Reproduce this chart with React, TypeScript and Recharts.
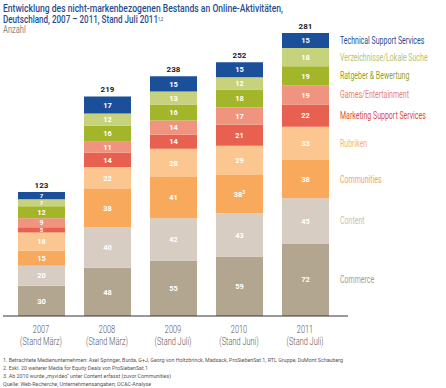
import React from 'react';
import { BarChart, Bar, XAxis, YAxis, LabelList } from 'recharts';

const years = ['2007', '2008', '2009', '2010', '2011'];
const stands = ['(Stand März)', '(Stand März)', '(Stand Juli)', '(Stand Juni)', '(Stand Juli)'];
const commerce = [30, 48, 55, 59, 72];
const content = [20, 40, 42, 43, 45];
const communities = [15, 38, 41, 38, 38];
const rubriken = [18, 22, 28, 29, 33];
const marketing = [5, 14, 14, 21, 22];
const games = [9, 11, 14, 17, 19];
const ratgeber = [12, 16, 16, 18, 19];
const verzeichnisse = [7, 12, 13, 12, 18];
const technical = [7, 17, 15, 15, 15];
const totals = [123, 219, 238, 252, 281];
const communitiesNotes = ['', '', '', '3', ''];

const FONT = 'Roboto, "Noto Sans", sans-serif';

const series = [
  { key: 'commerce', name: 'Commerce', values: commerce, fill: '#b3a690', text: '#a99d8b' },
  { key: 'content', name: 'Content', values: content, fill: '#d7cdc2', text: '#c9c0b6' },
  { key: 'communities', name: 'Communities', values: communities, fill: '#f9a95c', text: '#f2a463', notes: communitiesNotes },
  { key: 'rubriken', name: 'Rubriken', values: rubriken, fill: '#fcc690', text: '#f5b47c' },
  { key: 'marketing', name: 'Marketing Support Services', values: marketing, fill: '#e8604f', text: '#d94a3d' },
  { key: 'games', name: 'Games/Entertainment', values: games, fill: '#f0947f', text: '#e8826e' },
  { key: 'ratgeber', name: 'Ratgeber & Bewertung', values: ratgeber, fill: '#a3b528', text: '#8fa32a' },
  { key: 'verzeichnisse', name: 'Verzeichnisse/Lokale Suche', values: verzeichnisse, fill: '#c7d27c', text: '#b5c470' },
  { key: 'technical', name: 'Technical Support Services', values: technical, fill: '#1b4f9a', text: '#1e4f94' },
];

const data = years.map((y, i) => {
  const row: any = { year: y, stand: stands[i] };
  series.forEach((s) => (row[s.key] = s.values[i]));
  return row;
});

const Cond = ({ x, y, scale = 0.72, children, ...rest }: any) => (
  <g transform={`translate(${x},${y}) scale(${scale},1)`}>
    <text x={0} y={0} fontFamily={FONT} fontWeight="normal" {...rest}>
      {children}
    </text>
  </g>
);

const Tick = (props: any) => {
  const { x, y, payload } = props;
  const i = payload.index;
  return (
    <g>
      <Cond x={x} y={y + 9} scale={0.74} textAnchor="middle" fontSize={10} fontWeight={300} fill="#555">
        {years[i]}
      </Cond>
      <Cond x={x} y={y + 21} scale={0.74} textAnchor="middle" fontSize={10} fontWeight={300} fill="#555">
        {stands[i]}
      </Cond>
    </g>
  );
};

const makeSegLabel = (s: any) => (props: any) => {
  const { x, y, width, height, index, value } = props;
  const h = Number(height);
  const cx = Number(x) + Number(width) / 2;
  const cy = Number(y) + h / 2;
  const note = s.notes ? s.notes[index] : '';
  const fs = h < 8 ? 6 : h < 11 ? 7 : 7.5;
  return (
    <g>
      <text x={cx} y={cy + fs * 0.36} textAnchor="middle" fontFamily={FONT} fontSize={fs} fontWeight="bold" fill="#ffffff">
        {value}
        {note ? (
          <tspan dy={-3} fontSize={5}>
            {note}
          </tspan>
        ) : null}
      </text>
      {index === 4 ? (
        <Cond x={Number(x) + Number(width) + 11} y={cy + 3.5} scale={0.7} fontSize={10} fill={s.text}>
          {s.name}
        </Cond>
      ) : null}
    </g>
  );
};

const TotalLabel = (props: any) => {
  const { x, y, width, index } = props;
  return (
    <text x={Number(x) + Number(width) / 2} y={Number(y) - 4} textAnchor="middle" fontFamily={FONT} fontSize={8} fontWeight="bold" fill="#222">
      {totals[index]}
    </text>
  );
};

export default function App() {
  return (
    <div style={{ position: 'absolute', left: 0, top: 0, width: 446, height: 388, background: '#fff' }}>
      <svg width={446} height={388} style={{ position: 'absolute', left: 0, top: 0 }}>
        <text x={3} y={11.5} fontFamily={FONT} fontSize={10} fontWeight={500} fill="#1f4e8f" textLength={280} lengthAdjust="spacingAndGlyphs">
          Entwicklung des nicht-markenbezogenen Bestands an Online-Aktivitäten,
        </text>
        <text x={3} y={23} fontFamily={FONT} fontSize={10} fontWeight={500} fill="#1f4e8f" textLength={160} lengthAdjust="spacingAndGlyphs">
          Deutschland, 2007 – 2011, Stand Juli 2011
          <tspan dy={-2.5} fontSize={4.5}>1,2</tspan>
        </text>
        <Cond x={3} y={33} scale={0.75} fontSize={10} fill="#888">
          Anzahl
        </Cond>
        <text x={3} y={362} fontFamily={FONT} fontSize={5.5} fill="#555" textLength={340} lengthAdjust="spacingAndGlyphs">
          1. Betrachtete Medienunternehmen: Axel Springer, Burda, G+J, Georg von Holtzbrinck, Madsack, ProSiebenSat.1, RTL Gruppe, DuMont Schauberg
        </text>
        <text x={3} y={370} fontFamily={FONT} fontSize={5.5} fill="#555" textLength={145} lengthAdjust="spacingAndGlyphs">
          2. Exkl. 20 weiterer Media for Equity Deals von ProSiebenSat.1
        </text>
        <text x={3} y={378} fontFamily={FONT} fontSize={5.5} fill="#555" textLength={168} lengthAdjust="spacingAndGlyphs">
          3. Ab 2010 wurde „myvideo“ unter Content erfasst (zuvor Communities)
        </text>
        <text x={3} y={385.5} fontFamily={FONT} fontSize={5.5} fill="#555" textLength={148} lengthAdjust="spacingAndGlyphs">
          Quelle: Web-Recherche; Unternehmensangaben; OC&amp;C-Analyse
        </text>
      </svg>
      <div style={{ position: 'absolute', left: 0, top: 0 }}>
        <BarChart width={446} height={388} data={data} margin={{ top: 33, right: 98, bottom: 32, left: 3 }}>
          <YAxis hide domain={[0, 281]} />
          <XAxis
            dataKey="year"
            tick={<Tick />}
            tickLine={false}
            axisLine={{ stroke: '#333' }}
            height={40}
            interval={0}
            padding={{ left: 5, right: 10 }}
          />
          {series.map((s, si) => (
            <Bar key={s.key} dataKey={s.key} stackId="a" fill={s.fill} barSize={47} isAnimationActive={false}>
              <LabelList dataKey={s.key} content={makeSegLabel(s)} />
              {si === series.length - 1 ? <LabelList dataKey={s.key} content={TotalLabel} /> : null}
            </Bar>
          ))}
        </BarChart>
      </div>
    </div>
  );
}
